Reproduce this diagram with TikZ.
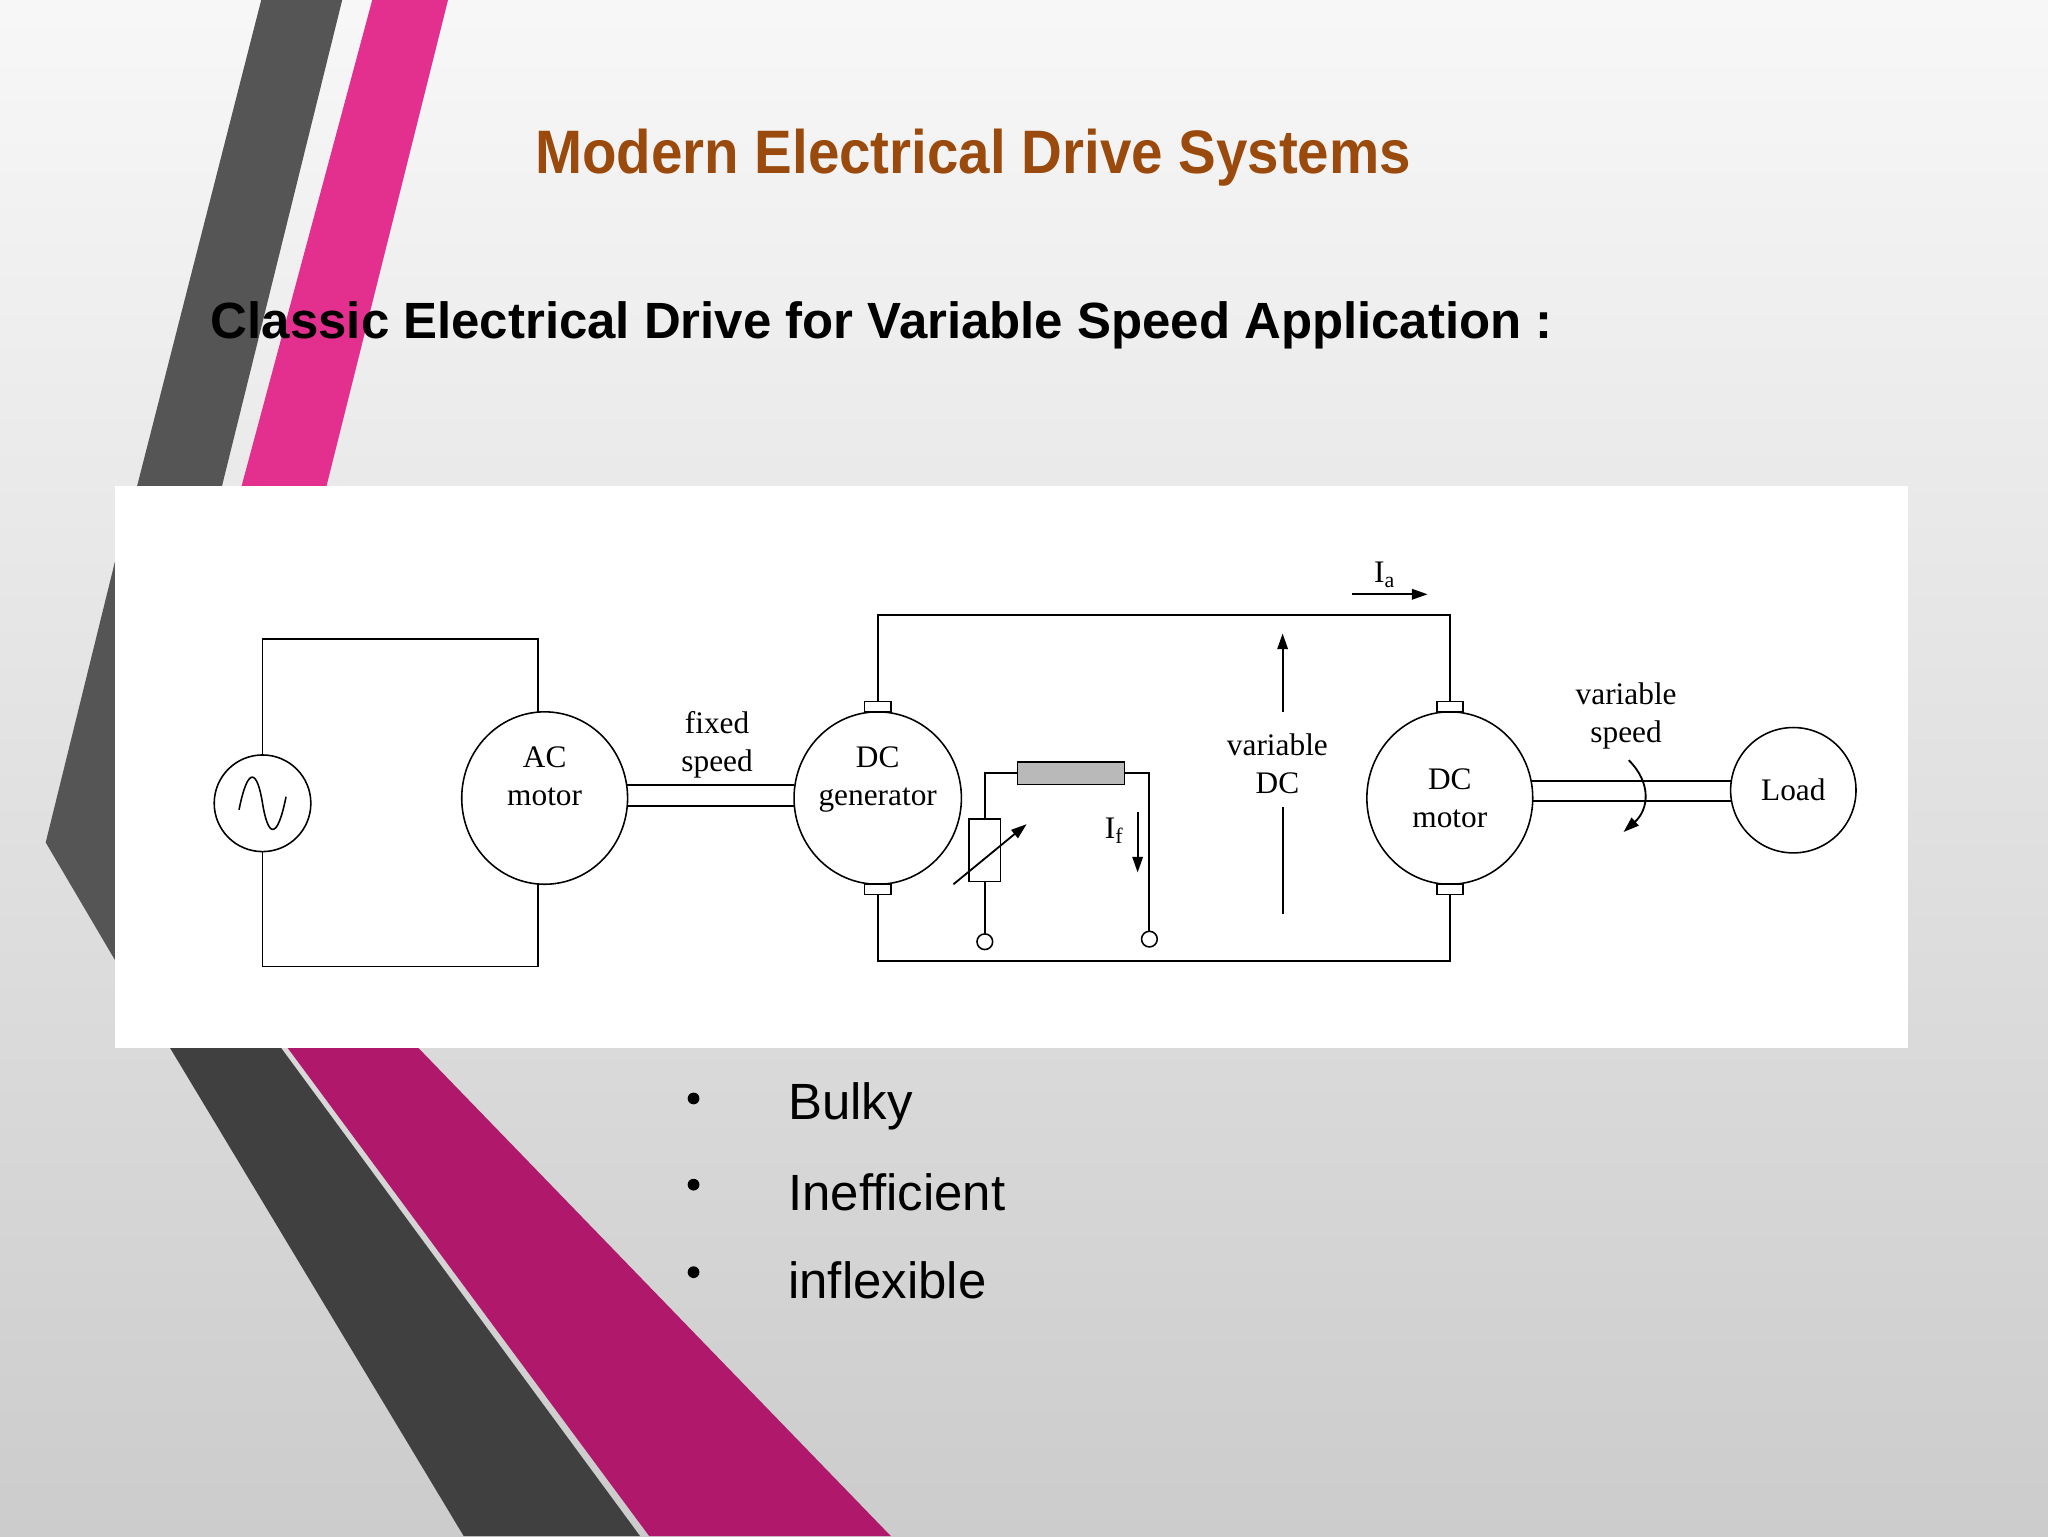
\documentclass[tikz,border=0pt]{standalone}
\usepackage{fontspec}
\setmainfont{Liberation Sans}
\newfontfamily\serifd{Liberation Serif}
\usetikzlibrary{arrows.meta,shapes.geometric}
\definecolor{pinkA}{HTML}{E3308F}
\definecolor{pinkB}{HTML}{B0186C}
\definecolor{darkA}{HTML}{555555}
\definecolor{darkB}{HTML}{404040}
\definecolor{titlec}{HTML}{9A4A0C}
\begin{document}
\begin{tikzpicture}[x=1pt,y=-1pt,
  w/.style={line width=1.4pt},
  mach/.style={draw,line width=1.2pt,ellipse,minimum width=127pt,minimum height=132pt,inner sep=0pt,align=center,font=\serifd\fontsize{24}{29}\selectfont},
  brush/.style={draw,line width=1.2pt,fill=white,minimum width=20pt,minimum height=8pt,inner sep=0pt},
  lab/.style={font=\serifd\fontsize{24}{29}\selectfont,align=center},
  term/.style={draw,line width=1.2pt,circle,minimum size=12pt,inner sep=0pt,fill=white},
  arr/.style={line width=1.4pt,-{Triangle[length=12pt,width=8pt]}},
  bul/.style={font=\fontsize{39}{46}\selectfont,anchor=west}]
\useasboundingbox (0,0) rectangle (1568,1176);
\shade[top color=white!94!gray,bottom color=gray!40] (0,0) rectangle (1568,1176);
\fill[darkA] (200,0) -- (262,0) -- (170,372) -- (105,372) -- cycle;
\fill[pinkA] (285,0) -- (343,0) -- (250,372) -- (185,372) -- cycle;
\fill[darkA] (88,430) -- (35,645) -- (88,735) -- cycle;
\fill[darkB] (130,802) -- (215,802) -- (490,1176) -- (355,1176) -- cycle;
\fill[pinkB] (220,802) -- (320,802) -- (682,1176) -- (497,1176) -- cycle;
\node[font=\bfseries\fontsize{47}{50}\selectfont,text=titlec,xscale=0.92] (title) at (745,121) {Modern Electrical Drive Systems};
\node[font=\bfseries\fontsize{39}{46}\selectfont,anchor=west] (sub) at (158,249) {Classic Electrical Drive for Variable Speed Application :};
\fill[white] (88,372) rectangle (1461,802);
% source
\node[draw,line width=1.2pt,circle,minimum size=74pt,inner sep=0pt] (src) at (201,615) {};
\draw[line width=1.2pt] (183,620) .. controls (190,585) and (197,590) .. (201,615) .. controls (205,640) and (212,645) .. (219,610);
\node[mach] (acm) at (417,611) {AC\\motor\\[4pt]};
\node[mach] (gen) at (672,611) {DC\\generator\\[4pt]};
\node[mach] (dcm) at (1110,611) {DC\\motor};
\node[draw,line width=1.2pt,circle,minimum size=96pt,inner sep=0pt,font=\serifd\fontsize{24}{29}\selectfont] (load) at (1373,605) {Load};
\node[brush] (gt) at (672,541) {};
\node[brush] (gb) at (672,681) {};
\node[brush] (mt) at (1110,541) {};
\node[brush] (mb) at (1110,681) {};
% ac loop
\draw[w] (src.north) |- (412,489) -- (412,545);
\draw[w] (src.south) |- (412,740) -- (412,677);
% shafts
\draw[w] (480,601) -- (608,601) (480,617) -- (608,617);
\draw[w] (1173,598) -- (1325,598) (1173,613) -- (1325,613);
\node[lab] (fs) at (549,570) {fixed\\speed};
% armature loop
\draw[w] (gt.north) |- (1110,471) -- (mt.north);
\draw[w] (gb.south) |- (1110,736) -- (mb.south);
% field
\node[draw,line width=1.2pt,minimum width=24pt,minimum height=48pt,inner sep=0pt] (rh) at (754,651) {};
\node[draw,line width=1.2pt,fill=gray!55,minimum width=82pt,minimum height=17pt,inner sep=0pt] (fr) at (820,592) {};
\node[term] (t1) at (754,721) {};
\node[term] (t2) at (880,719) {};
\draw[w] (rh.north) |- (fr.west);
\draw[w] (fr.east) -| (t2.north);
\draw[w] (rh.south) -- (t1.north);
\draw[arr] (730,677) -- (786,631);
\node[lab] (if) at (853,636) {I\textsubscript{f}};
\draw[arr] (871,622) -- (871,668);
% variable dc
\node[lab] (vdc) at (978,585) {variable\\DC};
\draw[w] (982,700) -- (982,618);
\draw[arr] (982,545) -- (982,485);
\node[lab] (ia) at (1060,440) {I\textsubscript{a}};
\draw[arr] (1035,455) -- (1093,455);
\node[lab] (vs) at (1245,548) {variable\\speed};
\draw[arr] (1247,582) .. controls (1265,600) and (1262,620) .. (1243,637);
% bullets
\foreach \y/\t [count=\i] in {847/Bulky,913/Inefficient,980/inflexible}{
  \fill (531,\y-6) circle (4.5pt);
  \node[bul] (b\i) at (600,\y) {\t};
}
\end{tikzpicture}
\end{document}
